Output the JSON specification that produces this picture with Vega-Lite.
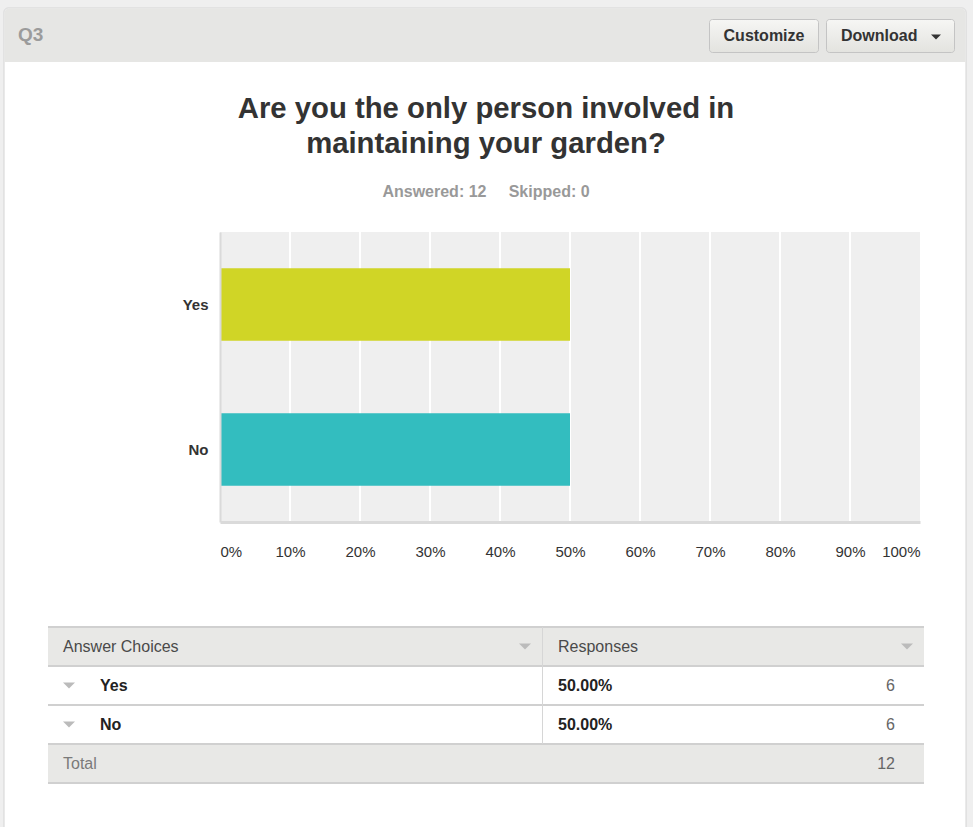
{
  "$schema": "https://vega.github.io/schema/vega-lite/v6.json",
  "width": 700,
  "height": 290,
  "autosize": "none",
  "padding": {"left": 220, "top": 232, "right": 53, "bottom": 305},
  "background": "#efefef",
  "config": {"view": {"stroke": null}, "font": "Liberation Sans"},
  "title": {
    "text": ["Are you the only person involved in", "maintaining your garden?"],
    "subtitle": "Answered: 12\u00a0\u00a0\u00a0\u00a0 Skipped: 0",
    "anchor": "middle",
    "dx": -84,
    "font": "Liberation Sans",
    "fontSize": 29.3,
    "fontWeight": "bold",
    "color": "#333333",
    "lineHeight": 35,
    "subtitleFont": "Liberation Sans",
    "subtitleFontSize": 16,
    "subtitleFontWeight": "bold",
    "subtitleColor": "#999999",
    "subtitlePadding": 24,
    "offset": -192,
    "zindex": 1
  },
  "resolve": {"scale": {"x": "independent", "y": "independent"}},
  "layer": [
    {
      "data": {"values": [{"panel": "Q3", "first": "Customize", "second": "Download"}]},
      "layer": [
        {
          "mark": {"type": "rect", "fill": "#ffffff", "stroke": "#d4d4d4", "strokeWidth": 1, "cornerRadius": 4},
          "encoding": {
            "x": {"datum": 4, "type": "quantitative", "scale": {"domain": [0, 973], "range": [-220, 753], "nice": false, "zero": false}, "axis": null},
            "x2": {"datum": 966},
            "y": {"datum": 8, "type": "quantitative", "scale": {"domain": [0, 827], "range": [-232, 595], "nice": false, "zero": false}, "axis": null},
            "y2": {"datum": 900}
          }
        },
        {
          "mark": {"type": "rect", "fill": "#e6e6e4", "cornerRadiusTopLeft": 4, "cornerRadiusTopRight": 4},
          "encoding": {
            "x": {"datum": 4.5, "type": "quantitative", "scale": {"domain": [0, 973], "range": [-220, 753], "nice": false, "zero": false}, "axis": null},
            "x2": {"datum": 965.5},
            "y": {"datum": 8.5, "type": "quantitative", "scale": {"domain": [0, 827], "range": [-232, 595], "nice": false, "zero": false}, "axis": null},
            "y2": {"datum": 62}
          }
        },
        {
          "mark": {"type": "text", "align": "left", "baseline": "middle", "fontSize": 19, "fontWeight": "bold", "fill": "#9b9b9b"},
          "encoding": {
            "text": {"field": "panel"},
            "x": {"datum": 18, "type": "quantitative", "scale": {"domain": [0, 973], "range": [-220, 753], "nice": false, "zero": false}, "axis": null},
            "y": {"datum": 35, "type": "quantitative", "scale": {"domain": [0, 827], "range": [-232, 595], "nice": false, "zero": false}, "axis": null}
          }
        },
        {
          "mark": {"type": "rect", "stroke": "#c4c4c4", "strokeWidth": 1, "cornerRadius": 3,
            "fill": {"gradient": "linear", "x1": 0, "y1": 0, "x2": 0, "y2": 1, "stops": [{"offset": 0, "color": "#f6f6f4"}, {"offset": 1, "color": "#e3e3df"}]}},
          "encoding": {
            "x": {"datum": 709.5, "type": "quantitative", "scale": {"domain": [0, 973], "range": [-220, 753], "nice": false, "zero": false}, "axis": null},
            "x2": {"datum": 818.5},
            "y": {"datum": 19.5, "type": "quantitative", "scale": {"domain": [0, 827], "range": [-232, 595], "nice": false, "zero": false}, "axis": null},
            "y2": {"datum": 52.5}
          }
        },
        {
          "mark": {"type": "rect", "stroke": "#c4c4c4", "strokeWidth": 1, "cornerRadius": 3,
            "fill": {"gradient": "linear", "x1": 0, "y1": 0, "x2": 0, "y2": 1, "stops": [{"offset": 0, "color": "#f6f6f4"}, {"offset": 1, "color": "#e3e3df"}]}},
          "encoding": {
            "x": {"datum": 826.5, "type": "quantitative", "scale": {"domain": [0, 973], "range": [-220, 753], "nice": false, "zero": false}, "axis": null},
            "x2": {"datum": 954.5},
            "y": {"datum": 19.5, "type": "quantitative", "scale": {"domain": [0, 827], "range": [-232, 595], "nice": false, "zero": false}, "axis": null},
            "y2": {"datum": 52.5}
          }
        },
        {
          "mark": {"type": "text", "align": "center", "baseline": "middle", "fontSize": 16, "fontWeight": "bold", "fill": "#333333"},
          "encoding": {
            "text": {"field": "first"},
            "x": {"datum": 764, "type": "quantitative", "scale": {"domain": [0, 973], "range": [-220, 753], "nice": false, "zero": false}, "axis": null},
            "y": {"datum": 36, "type": "quantitative", "scale": {"domain": [0, 827], "range": [-232, 595], "nice": false, "zero": false}, "axis": null}
          }
        },
        {
          "mark": {"type": "text", "align": "left", "baseline": "middle", "fontSize": 16, "fontWeight": "bold", "fill": "#333333"},
          "encoding": {
            "text": {"field": "second"},
            "x": {"datum": 841, "type": "quantitative", "scale": {"domain": [0, 973], "range": [-220, 753], "nice": false, "zero": false}, "axis": null},
            "y": {"datum": 36, "type": "quantitative", "scale": {"domain": [0, 827], "range": [-232, 595], "nice": false, "zero": false}, "axis": null}
          }
        },
        {
          "mark": {"type": "point", "shape": "M-1,-0.5L1,-0.5L0,0.5Z", "size": 100, "filled": true, "fill": "#333333", "opacity": 1, "strokeWidth": 0},
          "encoding": {
            "x": {"datum": 936, "type": "quantitative", "scale": {"domain": [0, 973], "range": [-220, 753], "nice": false, "zero": false}, "axis": null},
            "y": {"datum": 37, "type": "quantitative", "scale": {"domain": [0, 827], "range": [-232, 595], "nice": false, "zero": false}, "axis": null}
          }
        }
      ]
    },
    {
      "data": {"values": [
        {"answer": "Yes", "share": 0.5, "responses": 6},
        {"answer": "No", "share": 0.5, "responses": 6}
      ]},
      "layer": [
        {
          "mark": {"type": "rect", "fill": "#efefef"},
          "encoding": {
            "x": {"datum": 0, "type": "quantitative", "scale": {"domain": [0, 1], "nice": false},
              "axis": {"title": null, "values": [0, 0.1, 0.2, 0.3, 0.4, 0.5, 0.6, 0.7, 0.8, 0.9, 1], "format": ".0%", "labelFlush": true, "labelOverlap": false, "grid": false, "ticks": false, "domain": true, "domainColor": "#dadada", "domainWidth": 3, "labelFontSize": 15, "labelColor": "#333333", "labelPadding": 22, "zindex": 1}},
            "x2": {"datum": 1}
          }
        },
        {
          "data": {"values": [{"tick": 0.1}, {"tick": 0.2}, {"tick": 0.3}, {"tick": 0.4}, {"tick": 0.5}, {"tick": 0.6}, {"tick": 0.7}, {"tick": 0.8}, {"tick": 0.9}]},
          "mark": {"type": "rule", "stroke": "#ffffff", "strokeWidth": 2},
          "encoding": {
            "x": {"field": "tick", "type": "quantitative", "scale": {"domain": [0, 1], "nice": false},
              "axis": {"title": null, "values": [0, 0.1, 0.2, 0.3, 0.4, 0.5, 0.6, 0.7, 0.8, 0.9, 1], "format": ".0%", "labelFlush": true, "labelOverlap": false, "grid": false, "ticks": false, "domain": true, "domainColor": "#dadada", "domainWidth": 3, "labelFontSize": 15, "labelColor": "#333333", "labelPadding": 22, "zindex": 1}}
          }
        },
        {
          "mark": {"type": "bar"},
          "encoding": {
            "y": {"field": "answer", "type": "nominal", "sort": ["Yes", "No"], "scale": {"paddingInner": 0.5, "paddingOuter": 0.25},
              "axis": {"title": null, "ticks": false, "domainColor": "#dadada", "domainWidth": 2, "labelFontSize": 15, "labelFontWeight": "bold", "labelColor": "#333333", "labelPadding": 12, "zindex": 1}},
            "x": {"field": "share", "type": "quantitative", "scale": {"domain": [0, 1], "nice": false},
              "axis": {"title": null, "values": [0, 0.1, 0.2, 0.3, 0.4, 0.5, 0.6, 0.7, 0.8, 0.9, 1], "format": ".0%", "labelFlush": true, "labelOverlap": false, "grid": false, "ticks": false, "domain": true, "domainColor": "#dadada", "domainWidth": 3, "labelFontSize": 15, "labelColor": "#333333", "labelPadding": 22, "zindex": 1}},
            "color": {"field": "answer", "type": "nominal", "scale": {"domain": ["Yes", "No"], "range": ["#d0d526", "#33bdbf"]}, "legend": null}
          }
        }
      ]
    },
    {
      "data": {"values": [
        {"kind": "header", "choice": "Answer Choices", "heading": "Responses"},
        {"kind": "answer", "choice": "Yes", "share": 0.5, "responses": 6},
        {"kind": "answer", "choice": "No", "share": 0.5, "responses": 6},
        {"kind": "total", "choice": "Total", "responses": 12}
      ]},
      "encoding": {
        "y": {"field": "choice", "type": "nominal", "scale": {"domain": ["Answer Choices", "Yes", "No", "Total"], "range": [395, 551], "paddingInner": 0, "paddingOuter": 0}, "axis": null}
      },
      "layer": [
        {
          "mark": {"type": "rect"},
          "encoding": {
            "x": {"datum": 48, "type": "quantitative", "scale": {"domain": [0, 973], "range": [-220, 753], "nice": false, "zero": false}, "axis": null},
            "x2": {"datum": 924},
            "fill": {"condition": {"test": "datum.kind !== 'answer'", "value": "#e8e8e6"}, "value": "#ffffff"}
          }
        },
        {
          "mark": {"type": "rule", "stroke": "#d0d0d0", "strokeWidth": 2},
          "encoding": {
            "y": {"field": "choice", "type": "nominal", "bandPosition": 0},
            "x": {"datum": 48, "type": "quantitative", "scale": {"domain": [0, 973], "range": [-220, 753], "nice": false, "zero": false}, "axis": null},
            "x2": {"datum": 924}
          }
        },
        {
          "transform": [{"filter": "datum.kind === 'total'"}],
          "mark": {"type": "rule", "stroke": "#d0d0d0", "strokeWidth": 2},
          "encoding": {
            "y": {"field": "choice", "type": "nominal", "bandPosition": 1},
            "x": {"datum": 48, "type": "quantitative", "scale": {"domain": [0, 973], "range": [-220, 753], "nice": false, "zero": false}, "axis": null},
            "x2": {"datum": 924}
          }
        },
        {
          "transform": [{"filter": "datum.kind !== 'total'"}],
          "mark": {"type": "rect", "fill": "#d6d6d6"},
          "encoding": {
            "x": {"datum": 542, "type": "quantitative", "scale": {"domain": [0, 973], "range": [-220, 753], "nice": false, "zero": false}, "axis": null},
            "x2": {"datum": 543}
          }
        },
        {
          "transform": [{"filter": "datum.kind !== 'answer'"}],
          "mark": {"type": "text", "align": "left", "baseline": "middle", "fontSize": 16},
          "encoding": {
            "text": {"field": "choice"},
            "x": {"datum": 63, "type": "quantitative", "scale": {"domain": [0, 973], "range": [-220, 753], "nice": false, "zero": false}, "axis": null},
            "fill": {"condition": {"test": "datum.kind === 'total'", "value": "#7a7a7a"}, "value": "#4a4a4a"}
          }
        },
        {
          "transform": [{"filter": "datum.kind === 'answer'"}],
          "mark": {"type": "text", "align": "left", "baseline": "middle", "fontSize": 16, "fontWeight": "bold", "fill": "#222222"},
          "encoding": {
            "text": {"field": "choice"},
            "x": {"datum": 100, "type": "quantitative", "scale": {"domain": [0, 973], "range": [-220, 753], "nice": false, "zero": false}, "axis": null}
          }
        },
        {
          "transform": [{"filter": "datum.kind === 'answer'"}],
          "mark": {"type": "point", "shape": "M-1,-0.5L1,-0.5L0,0.5Z", "size": 144, "filled": true, "fill": "#bbbbbb", "opacity": 1, "strokeWidth": 0},
          "encoding": {
            "x": {"datum": 69, "type": "quantitative", "scale": {"domain": [0, 973], "range": [-220, 753], "nice": false, "zero": false}, "axis": null}
          }
        },
        {
          "transform": [{"filter": "datum.kind === 'header'"}],
          "mark": {"type": "point", "shape": "M-1,-0.5L1,-0.5L0,0.5Z", "size": 144, "filled": true, "fill": "#bbbbbb", "opacity": 1, "strokeWidth": 0},
          "encoding": {
            "x": {"datum": 525, "type": "quantitative", "scale": {"domain": [0, 973], "range": [-220, 753], "nice": false, "zero": false}, "axis": null}
          }
        },
        {
          "transform": [{"filter": "datum.kind === 'header'"}],
          "mark": {"type": "point", "shape": "M-1,-0.5L1,-0.5L0,0.5Z", "size": 144, "filled": true, "fill": "#bbbbbb", "opacity": 1, "strokeWidth": 0},
          "encoding": {
            "x": {"datum": 907, "type": "quantitative", "scale": {"domain": [0, 973], "range": [-220, 753], "nice": false, "zero": false}, "axis": null}
          }
        },
        {
          "transform": [{"filter": "datum.kind === 'header'"}],
          "mark": {"type": "text", "align": "left", "baseline": "middle", "fontSize": 16, "fill": "#4a4a4a"},
          "encoding": {
            "text": {"field": "heading"},
            "x": {"datum": 558, "type": "quantitative", "scale": {"domain": [0, 973], "range": [-220, 753], "nice": false, "zero": false}, "axis": null}
          }
        },
        {
          "transform": [{"filter": "datum.kind === 'answer'"}],
          "mark": {"type": "text", "align": "left", "baseline": "middle", "fontSize": 16, "fontWeight": "bold", "fill": "#222222"},
          "encoding": {
            "text": {"field": "share", "type": "quantitative", "format": ".2%"},
            "x": {"datum": 558, "type": "quantitative", "scale": {"domain": [0, 973], "range": [-220, 753], "nice": false, "zero": false}, "axis": null}
          }
        },
        {
          "transform": [{"filter": "datum.kind !== 'header'"}],
          "mark": {"type": "text", "align": "right", "baseline": "middle", "fontSize": 16, "fill": "#666666"},
          "encoding": {
            "text": {"field": "responses", "type": "quantitative"},
            "x": {"datum": 895, "type": "quantitative", "scale": {"domain": [0, 973], "range": [-220, 753], "nice": false, "zero": false}, "axis": null}
          }
        }
      ]
    }
  ]
}
